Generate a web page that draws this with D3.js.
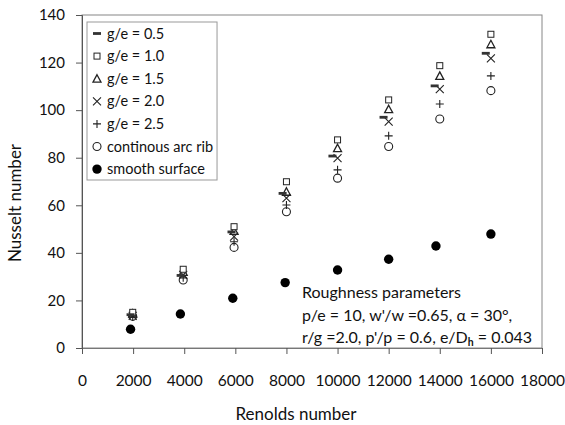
<!DOCTYPE html>
<html><head><meta charset="utf-8">
<script src="https://cdn.jsdelivr.net/npm/d3@7"></script>
<style>
html,body{margin:0;padding:0;background:#fff;}
svg{display:block;font-family:Lato,"Open Sans",sans-serif;}
</style></head>
<body><svg id="c" width="565" height="425"></svg>
<script>
const reRib = [1985, 3960, 5950, 8000, 10000, 12000, 14000, 16000];
const reDash = [1900, 3860, 5850, 7850, 9800, 11800, 13800, 15800];
const reSmooth = [1900, 3850, 5900, 7950, 10000, 12000, 13850, 16000];
const nu05 = [14, 30.5, 48.8, 65, 80.7, 97, 110.2, 123.9];
const nu10 = [15, 33.1, 51, 69.9, 87.5, 104.3, 118.7, 131.9];
const nu15 = [14.5, 32, 49.2, 65.7, 84, 100.4, 114.4, 127.7];
const nu20 = [13.5, 30.7, 46.8, 63, 79.8, 95.2, 108.8, 121.8];
const nu25 = [13, 29.5, 44.7, 60.1, 74.9, 89.2, 102.6, 114.4];
const nuArc = [13.3, 28.6, 42.3, 57.3, 71.4, 84.7, 96.3, 108.2];
const nuSmooth = [7.9, 14.3, 20.9, 27.5, 32.8, 37.3, 42.9, 47.9];
const xTicks = [0, 2000, 4000, 6000, 8000, 10000, 12000, 14000, 16000, 18000];
const yTicks = [0, 20, 40, 60, 80, 100, 120, 140];
const legendLabels = ["g/e = 0.5", "g/e = 1.0", "g/e = 1.5", "g/e = 2.0", "g/e = 2.5", "continous arc rib", "smooth surface"];

const series = [
  {name: legendLabels[0], x: reDash, y: nu05, m: "dash"},
  {name: legendLabels[1], x: reRib, y: nu10, m: "square"},
  {name: legendLabels[2], x: reRib, y: nu15, m: "triangle"},
  {name: legendLabels[3], x: reRib, y: nu20, m: "x"},
  {name: legendLabels[4], x: reRib, y: nu25, m: "plus"},
  {name: legendLabels[5], x: reRib, y: nuArc, m: "circle"},
  {name: legendLabels[6], x: reSmooth, y: nuSmooth, m: "dot"}
];

const svg = d3.select("#c");
const L = 82, R = 542, T = 15, B = 348;
const x = d3.scaleLinear().domain([0, 18000]).range([L, R]);
const y = d3.scaleLinear().domain([0, 140]).range([B, T]);

// frame
svg.append("rect").attr("x", L).attr("y", T).attr("width", R - L).attr("height", B - T)
  .attr("fill", "none").attr("stroke", "#868686").attr("stroke-width", 1);

// y axis
const ya = svg.append("g").attr("transform", `translate(${L},0)`)
  .call(d3.axisLeft(y).tickValues(yTicks).tickSize(6).tickPadding(11));
ya.select(".domain").attr("stroke", "#555");
ya.selectAll(".tick line").attr("stroke", "#555");
ya.selectAll("text").attr("font-size", 15).attr("fill", "#111").attr("font-family", "Lato,sans-serif");

// x axis
const xa = svg.append("g").attr("transform", `translate(0,${B})`)
  .call(d3.axisBottom(x).tickValues(xTicks).tickFormat(d3.format("d")).tickSize(6).tickPadding(21));
xa.select(".domain").attr("stroke", "#777");
xa.selectAll(".tick line").attr("stroke", "#555");
xa.selectAll("text").attr("font-size", 15.5).attr("fill", "#111").attr("font-family", "Lato,sans-serif");

// axis titles
svg.append("text").attr("x", 296).attr("y", 420).attr("text-anchor", "middle")
  .attr("font-size", 17).attr("fill", "#111").text("Renolds number");
svg.append("text").attr("transform", `translate(21,203) rotate(-90)`).attr("text-anchor", "middle")
  .attr("font-size", 17).attr("fill", "#111").text("Nusselt number");

function marker(g, m) {
  const s = "#222";
  if (m === "dash") g.append("rect").attr("x", -4).attr("y", -1.4).attr("width", 8).attr("height", 2.8).attr("fill", "#333");
  else if (m === "square") g.append("rect").attr("x", -3).attr("y", -3).attr("width", 6).attr("height", 6).attr("fill", "#fff").attr("stroke", s).attr("stroke-width", 1);
  else if (m === "triangle") g.append("path").attr("d", "M0,-4 L4,3.5 L-4,3.5 Z").attr("fill", "none").attr("stroke", s).attr("stroke-width", 1.3);
  else if (m === "x") g.append("path").attr("d", "M-4,-4 L4,4 M-4,4 L4,-4").attr("stroke", s).attr("stroke-width", 1.1);
  else if (m === "plus") g.append("path").attr("d", "M-4,0 L4,0 M0,-4 L0,4").attr("stroke", s).attr("stroke-width", 1.1);
  else if (m === "circle") g.append("circle").attr("r", 4).attr("fill", "none").attr("stroke", s).attr("stroke-width", 1.1);
  else if (m === "dot") g.append("circle").attr("r", 4.7).attr("fill", "#000");
}

const order = [6, 5, 4, 3, 2, 1, 0];
order.forEach(i => {
  const s = series[i];
  s.x.forEach((xv, j) => {
    const g = svg.append("g").attr("transform", `translate(${x(xv)},${y(s.y[j])})`);
    marker(g, s.m);
  });
});

// legend
const lg = svg.append("g");
const box = lg.append("rect").attr("x", 87).attr("y", 22).attr("height", 158)
  .attr("fill", "#fff").attr("stroke", "#999").attr("stroke-width", 1);
let maxW = 0;
series.forEach((s, i) => {
  const cy = 33.5 + i * 22.6;
  const g = lg.append("g").attr("transform", `translate(97,${cy})`);
  marker(g, s.m);
  const t = lg.append("text").attr("x", 107).attr("y", cy + 5).attr("font-size", 14.5).attr("fill", "#111").text(s.name);
  maxW = Math.max(maxW, t.node().getComputedTextLength());
});
box.attr("width", 107 + maxW + 4 - 87);

// annotation
const ann = svg.append("text").attr("font-size", 16).attr("fill", "#111");
ann.append("tspan").attr("x", 302).attr("y", 298).text("Roughness parameters");
ann.append("tspan").attr("x", 302).attr("y", 321).text("p/e = 10, w'/w =0.65, α = 30°,");
ann.append("tspan").attr("x", 302).attr("y", 343).text("r/g =2.0, p'/p = 0.6, e/D");
ann.append("tspan").attr("font-size", 10.5).attr("font-weight", "bold").attr("dy", 3).text("h");
ann.append("tspan").attr("dy", -3).text(" = 0.043");
</script></body></html>
